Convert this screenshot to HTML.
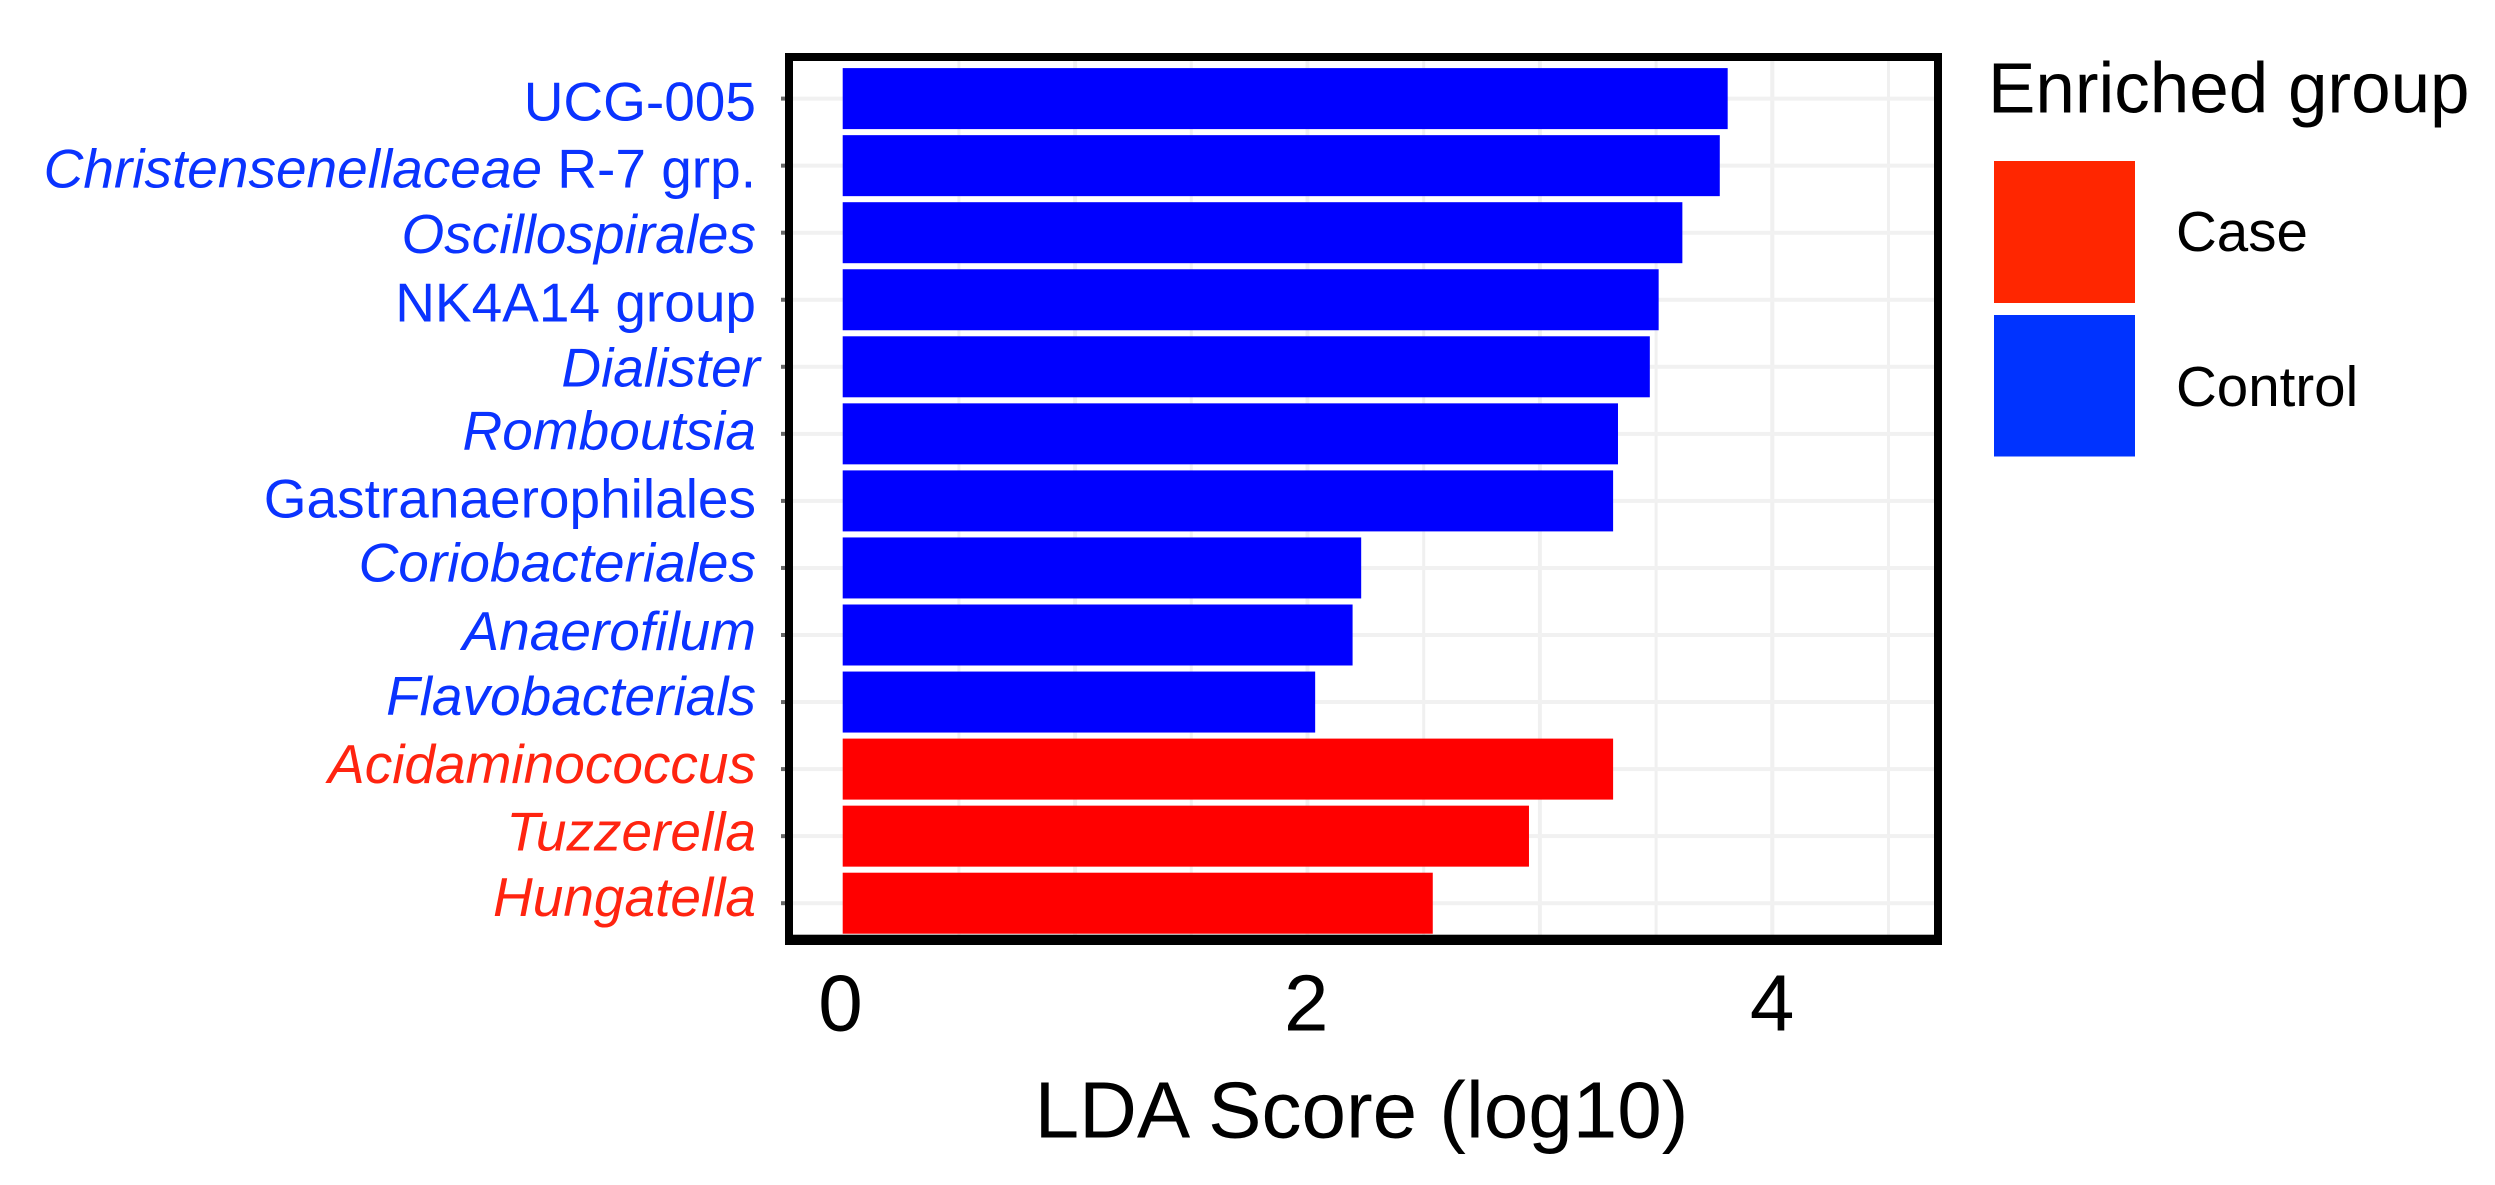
<!DOCTYPE html>
<html lang="en">
<head>
<meta charset="utf-8">
<title>LDA Score Chart</title>
<style>
html,body{margin:0;padding:0;background:#fff;width:2495px;height:1185px;overflow:hidden}
svg{display:block;font-family:"Liberation Sans",Arial,sans-serif}
</style>
</head>
<body>
<svg id="chart" xmlns="http://www.w3.org/2000/svg" width="2495" height="1185" viewBox="0 0 2495 1185">
  <g id="grid"></g>
  <g id="bars"></g>
  <g id="yticks"></g>
  <g id="ylabels"></g>
  <g id="frame">
    <rect x="785" y="53" width="1157" height="8" fill="#000"/>
    <rect x="785" y="53" width="8" height="892" fill="#000"/>
    <rect x="1934" y="53" width="8" height="892" fill="#000"/>
    <rect x="785" y="934.7" width="1157" height="10.3" fill="#000"/>
  </g>
  <g id="xlabels"></g>
  <text x="1361.5" y="1137.5" font-size="80" text-anchor="middle" fill="#000">LDA Score (log10)</text>
  <g>
    <text x="1988" y="112.5" font-size="71" fill="#000">Enriched group</text>
    <rect x="1994" y="161" width="141" height="142" fill="#ff2600"/>
    <text x="2176" y="251" font-size="56.5" fill="#000">Case</text>
    <rect x="1994" y="315" width="141" height="141.5" fill="#0033ff"/>
    <text x="2176" y="406" font-size="56.5" fill="#000">Control</text>
  </g>
</svg>
<script>
const categories = ["UCG-005","Christensenellaceae R-7 grp.","Oscillospirales","NK4A14 group","Dialister","Romboutsia","Gastranaerophilales","Coriobacteriales","Anaerofilum","Flavobacterials","Acidaminococcus","Tuzzerella","Hungatella"];
const italicParts = ["","Christensenellaceae","Oscillospirales","","Dialister","Romboutsia","","Coriobacteriales","Anaerofilum","Flavobacterials","Acidaminococcus","Tuzzerella","Hungatella"];
const ldaScores = [3.808,3.774,3.613,3.511,3.473,3.336,3.315,2.231,2.194,2.033,3.315,2.953,2.539];
const enrichedGroups = ["Control","Control","Control","Control","Control","Control","Control","Control","Control","Control","Case","Case","Case"];
const xTickLabels = [0,2,4];
const xGridValues = [0.5,1,1.5,2,2.5,3,3.5,4,4.5];

const NS = 'http://www.w3.org/2000/svg';
const barColors = {Case:'#ff0000',Control:'#0000ff'};
const textColors = {Case:'#ff2410',Control:'#0a33ff'};
const xScale = v => 842.7 + 232.4 * v;
const yScale = i => 98.6 + 67.05 * i;
const tickLabelX = v => 840.5 + 232.9 * v;
const labelBaseline = i => 120.5 + 66.3 * i;
const labelShiftY = {"Christensenellaceae R-7 grp.":0.7,"NK4A14 group":2.3,"Dialister":1,"Romboutsia":-2.7,"Gastranaerophilales":-0.9,"Coriobacteriales":-2.9,"Anaerofilum":-0.9,"Flavobacterials":-2.2,"Acidaminococcus":-0.7,"Tuzzerella":0.9};
const labelShiftX = {"Dialister":4};
const make = (tag, attrs) => {
  const n = document.createElementNS(NS, tag);
  Object.keys(attrs).forEach(k => n.setAttribute(k, attrs[k]));
  return n;
};
const grid = document.getElementById('grid');
const bars = document.getElementById('bars');
const yticks = document.getElementById('yticks');
const ylabels = document.getElementById('ylabels');
const xlabels = document.getElementById('xlabels');

xGridValues.forEach(v => {
  const l = make('line', {x1:xScale(v),x2:xScale(v),y1:61,y2:935,stroke:'#f0f0f0','stroke-width':Number.isInteger(v)?4:3});
  
  
  grid.appendChild(l);
});

categories.forEach((c, i) => {
  const y = yScale(i);
  const g = make('line', {x1:793,x2:1934,y1:y,y2:y,stroke:'#f1f1f1','stroke-width':4});
  
  
  grid.appendChild(g);

  const t = make('line', {x1:781,x2:785,y1:y,y2:y,stroke:'#666','stroke-width':4});
  
  
  yticks.appendChild(t);

  const b = make('rect', {x:xScale(0),y:y-30.5,width:xScale(ldaScores[i])-xScale(0),height:61,fill:barColors[enrichedGroups[i]]});
  
  
  bars.appendChild(b);

  const lab = make('text', {x:756+(labelShiftX[c]||0),y:labelBaseline(i)+(labelShiftY[c]||0),'font-size':55,'text-anchor':'end',fill:textColors[enrichedGroups[i]]});
  
  
  const it = italicParts[i];
  if (it) {
    const s = make('tspan', {'font-style':'italic'});
    s.textContent = it;
    lab.appendChild(s);
  }
  const rest = c.slice(it.length);
  if (rest) {
    lab.appendChild(document.createTextNode(rest));
  }
  ylabels.appendChild(lab);
});

xTickLabels.forEach(v => {
  const t = make('text', {x:tickLabelX(v),y:1030.5,'font-size':80,'text-anchor':'middle',fill:'#000'});
  
  
  t.textContent = v;
  xlabels.appendChild(t);
});
</script>
</body>
</html>
